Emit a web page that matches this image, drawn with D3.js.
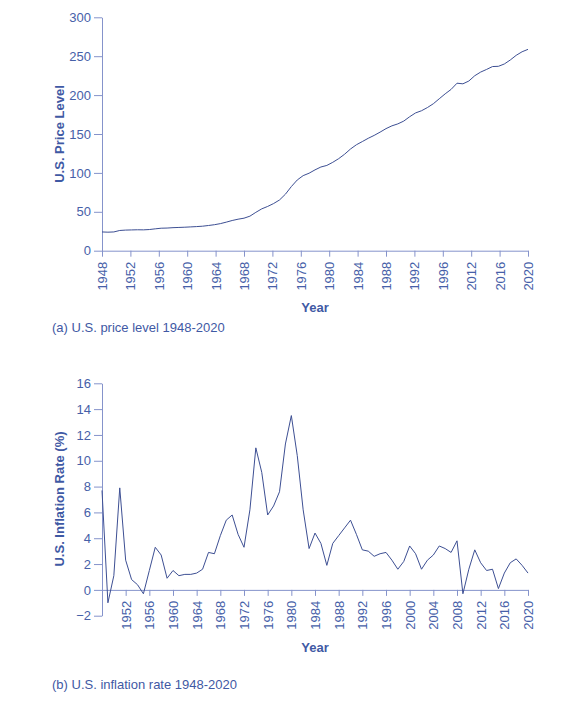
<!DOCTYPE html>
<html>
<head>
<meta charset="utf-8">
<script src="https://cdn.jsdelivr.net/npm/d3@7"></script>
<style>
  body { margin: 0; background: #fff; }
  svg { font-family: "Liberation Sans", Arial, sans-serif; }
  .axis path, .axis line { stroke: #8593cb; }
  .axis text { fill: #4660a8; font-size: 13px; }
  .title { fill: #3f59a4; font-size: 13px; font-weight: bold; }
  .caption { fill: #3f59a4; font-size: 13px; }
</style>
</head>
<body>
<svg id="chart" width="586" height="717"></svg>
<script>
// years 1948..2020
var years = d3.range(1948, 2021);

// CPI price level, annual
var priceLevel = [
  24.1, 23.8, 24.1, 26.0, 26.5, 26.7, 26.9, 26.8, 27.2, 28.1,
  28.9, 29.1, 29.6, 29.9, 30.2, 30.6, 31.0, 31.5, 32.4, 33.4,
  34.8, 36.7, 38.8, 40.5, 41.8, 44.4, 49.3, 53.8, 56.9, 60.6,
  65.2, 72.6, 82.4, 90.9, 96.5, 99.6, 103.9, 107.6, 109.6, 113.6,
  118.3, 124.0, 130.7, 136.2, 140.3, 144.5, 148.2, 152.4, 156.9, 160.5,
  163.0, 166.6, 172.2, 177.1, 179.9, 184.0, 188.9, 195.3, 201.6, 207.3,
  215.3, 214.5, 218.1, 224.9, 229.6, 233.0, 236.7, 237.0, 240.0, 245.1,
  251.1, 255.7, 258.8
];

// inflation rate (%)
var inflation = [
  7.7, -1.0, 1.1, 7.9, 2.3, 0.8, 0.4, -0.3, 1.5, 3.3,
  2.7, 0.9, 1.5, 1.1, 1.2, 1.2, 1.3, 1.6, 2.9, 2.8,
  4.2, 5.4, 5.8, 4.3, 3.3, 6.2, 11.0, 9.1, 5.8, 6.5,
  7.6, 11.3, 13.5, 10.4, 6.2, 3.2, 4.4, 3.6, 1.9, 3.6,
  4.2, 4.8, 5.4, 4.3, 3.1, 3.0, 2.6, 2.8, 2.9, 2.3,
  1.6, 2.2, 3.4, 2.8, 1.6, 2.3, 2.7, 3.4, 3.2, 2.9,
  3.8, -0.3, 1.6, 3.1, 2.1, 1.5, 1.6, 0.1, 1.3, 2.1,
  2.4, 1.9, 1.3
];

// tick labels as printed on the two x axes
var topTickLabels = ["1948", "1952", "1956", "1960", "1964", "1968", "1972", "1976",
  "1980", "1984", "1988", "1992", "1996", "2012", "2016", "2020"];
var bottomTickYears = d3.range(1952, 2021, 4);
var topYTicks = [0, 50, 100, 150, 200, 250, 300];
var bottomYTicks = [-2, 0, 2, 4, 6, 8, 10, 12, 14, 16];

var svg = d3.select('#chart');
var left = 102, right = 528;

var x = d3.scaleLinear().domain([1948, 2020]).range([left, right]);
var xTop = d3.scalePoint().domain(topTickLabels).range([left, right]);
var yTop = d3.scaleLinear().domain([0, 300]).range([250.7, 17.3]);
var yBot = d3.scaleLinear().domain([-2, 16]).range([615.7, 383.3]);

function rotateLabels(g) {
  g.selectAll('.tick text')
    .attr('transform', 'rotate(-90)')
    .attr('text-anchor', 'end')
    .attr('x', -11)
    .attr('y', 0)
    .attr('dy', '0.35em');
}

// ---- (a) price level ----
svg.append('g').attr('class', 'axis')
  .attr('transform', 'translate(0,' + yTop(0) + ')')
  .call(d3.axisBottom(xTop).tickSize(6).tickSizeOuter(0))
  .call(rotateLabels);

svg.append('g').attr('class', 'axis')
  .attr('transform', 'translate(' + left + ',0)')
  .call(d3.axisLeft(yTop).tickValues(topYTicks).tickSize(8).tickPadding(3).tickSizeOuter(0));

svg.append('path')
  .datum(years)
  .attr('fill', 'none')
  .attr('stroke', '#3d4f93')
  .attr('stroke-width', 1)
  .attr('d', d3.line().x(function(d) { return x(d); }).y(function(d, i) { return yTop(priceLevel[i]); }));

svg.append('text').attr('class', 'title')
  .attr('x', (left + right) / 2).attr('y', 312)
  .attr('text-anchor', 'middle').text('Year');

svg.append('text').attr('class', 'title')
  .attr('transform', 'translate(64,134) rotate(-90)')
  .attr('text-anchor', 'middle').text('U.S. Price Level');

svg.append('text').attr('class', 'caption')
  .attr('x', 52).attr('y', 332).text('(a) U.S. price level 1948-2020');

// ---- (b) inflation rate ----
svg.append('g').attr('class', 'axis')
  .attr('transform', 'translate(0,' + yBot(0) + ')')
  .call(d3.axisBottom(x).tickValues(bottomTickYears).tickFormat(d3.format('d')).tickSize(6).tickSizeOuter(0))
  .call(rotateLabels);

svg.append('g').attr('class', 'axis')
  .attr('transform', 'translate(' + left + ',0)')
  .call(d3.axisLeft(yBot).tickValues(bottomYTicks).tickSize(8).tickPadding(3).tickSizeOuter(0));

svg.append('path')
  .datum(years)
  .attr('fill', 'none')
  .attr('stroke', '#3d4f93')
  .attr('stroke-width', 1)
  .attr('d', d3.line().x(function(d) { return x(d); }).y(function(d, i) { return yBot(inflation[i]); }));

svg.append('text').attr('class', 'title')
  .attr('x', (left + right) / 2).attr('y', 652)
  .attr('text-anchor', 'middle').text('Year');

svg.append('text').attr('class', 'title')
  .attr('transform', 'translate(64,499) rotate(-90)')
  .attr('text-anchor', 'middle').text('U.S. Inflation Rate (%)');

svg.append('text').attr('class', 'caption')
  .attr('x', 52).attr('y', 689).text('(b) U.S. inflation rate 1948-2020');
</script>
</body>
</html>
